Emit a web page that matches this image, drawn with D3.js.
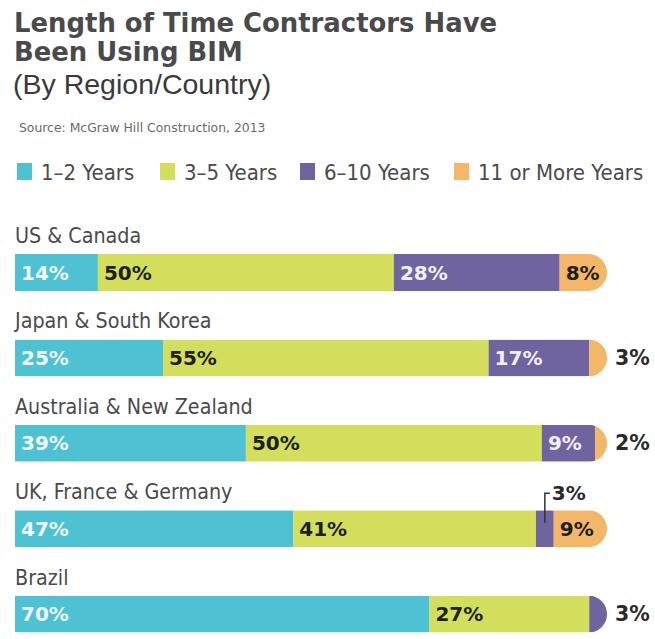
<!DOCTYPE html>
<html>
<head>
<meta charset="UTF-8">
<title>Length of Time Contractors Have Been Using BIM</title>
<script src="https://d3js.org/d3.v7.min.js"></script>
<style>
	body { margin: 0; background: #fff; }
	svg { display: block; }
</style>
</head>
<body>
<svg></svg>
<script type="text/javascript">
	var regions = ["US & Canada", "Japan & South Korea", "Australia & New Zealand", "UK, France & Germany", "Brazil"];
	var seriesNames = ["1\u20132 Years", "3\u20135 Years", "6\u201310 Years", "11 or More Years"];
	var years1to2 = [14, 25, 39, 47, 70];
	var years3to5 = [50, 55, 50, 41, 27];
	var years6to10 = [28, 17, 9, 3, 3];
	var years11plus = [8, 3, 2, 9, 0];

	var colors = ["#4ec1d2", "#d3df5c", "#6f649f", "#f3b767"];
	var labelColors = ["#eefaff", "#1e1e1e", "#f4f1ff", "#1e1e1e"];

	var width = 655, height = 639;
	var svg = d3.select("svg").attr("width", width).attr("height", height);

	var titleFont = "'DejaVu Sans', sans-serif";
	var plainFont = "'Liberation Sans', Arial, sans-serif";
	var labelFont = "'DejaVu Sans', sans-serif";
	var pctFont = "'DejaVu Sans', sans-serif";

	// title block
	svg.append("text").attr("x", 14).attr("y", 32)
		.attr("font-family", titleFont).attr("font-weight", 700).attr("font-size", 25.9)
		.attr("fill", "#4a4a4c").text("Length of Time Contractors Have");
	svg.append("text").attr("x", 14).attr("y", 61)
		.attr("font-family", titleFont).attr("font-weight", 700).attr("font-size", 25.9)
		.attr("fill", "#4a4a4c").text("Been Using BIM");
	svg.append("text").attr("x", 13).attr("y", 94)
		.attr("font-family", plainFont).attr("font-size", 28.5)
		.attr("fill", "#3a3a3c").text("(By Region/Country)");
	svg.append("text").attr("x", 19).attr("y", 132)
		.attr("font-family", "'DejaVu Sans', sans-serif").attr("font-size", 12.4)
		.attr("fill", "#6a6a6a").text("Source: McGraw Hill Construction, 2013");

	// legend
	var legendX = [17, 160, 300, 454];
	var legend = svg.selectAll("g.legend").data(seriesNames).enter().append("g")
		.attr("class", "legend")
		.attr("transform", function(d, i) { return "translate(" + legendX[i] + ",163)"; });
	legend.append("rect").attr("width", 15).attr("height", 17)
		.attr("fill", function(d, i) { return colors[i]; });
	legend.append("text").attr("x", 24).attr("y", 16.5)
		.attr("font-family", labelFont).attr("font-stretch", "condensed").attr("font-size", 22)
		.attr("fill", "#4a4a4c").text(function(d) { return d; });

	// stacked data
	var rows = regions.map(function(r, i) {
		return { region: r, values: [years1to2[i], years3to5[i], years6to10[i], years11plus[i]] };
	});
	rows.forEach(function(row) {
		var acc = 0;
		row.segs = row.values.map(function(v, k) {
			var s = { k: k, v: v, x0: acc, x1: acc + v };
			acc += v;
			return s;
		}).filter(function(s) { return s.v > 0; });
	});

	var x = d3.scaleLinear().domain([0, 100]).range([15, 607]);
	var y = d3.scaleBand().domain(regions).range([218, 645]);
	var barTop = 36, barH = 37, r = barH / 2;

	var defs = svg.append("defs");
	defs.append("clipPath").attr("id", "barClip").append("path")
		.attr("d", function() {
			var x0 = x(0), x1 = x(100);
			return "M" + x0 + ",0H" + (x1 - r) + "A" + r + "," + r + " 0 0 1 " + (x1 - r) + "," + barH +
				"H" + x0 + "Z";
		});

	var rowG = svg.selectAll("g.row").data(rows).enter().append("g")
		.attr("class", "row")
		.attr("transform", function(d) { return "translate(0," + y(d.region) + ")"; });

	rowG.append("text").attr("x", 15).attr("y", 25)
		.attr("font-family", labelFont).attr("font-stretch", "condensed").attr("font-size", 21.3)
		.attr("fill", "#4a4a4c").text(function(d) { return d.region; });

	var bar = rowG.append("g").attr("transform", "translate(0," + barTop + ")");
	bar.append("g").attr("clip-path", "url(#barClip)")
		.selectAll("rect").data(function(d) { return d.segs; }).enter().append("rect")
		.attr("x", function(s) { return x(s.x0); })
		.attr("width", function(s) { return x(s.x1) - x(s.x0); })
		.attr("height", barH)
		.attr("fill", function(s) { return colors[s.k]; });

	// percentage labels: inside if wide enough, outside for the last thin one, callout otherwise
	bar.each(function(row) {
		var g = d3.select(this);
		var last = row.segs[row.segs.length - 1];
		row.segs.forEach(function(s) {
			var txt = s.v + "%";
			if (s.v > 3) {
				g.append("text").attr("x", x(s.x0) + 6).attr("y", barH / 2 + 7)
					.attr("font-family", pctFont).attr("font-weight", 700).attr("font-size", 20)
					.attr("fill", labelColors[s.k]).text(txt);
			} else if (s === last) {
				g.append("text").attr("x", 615).attr("y", barH / 2 + 7)
					.attr("font-family", pctFont).attr("font-weight", 700).attr("font-size", 20.5)
					.attr("fill", "#2a2a2a").text(txt);
			} else {
				var cx = (x(s.x0) + x(s.x1)) / 2;
				g.append("path")
					.attr("d", "M" + cx + "," + (barH / 2 - 6) + "V-17H" + (cx + 5))
					.attr("fill", "none").attr("stroke", "#333").attr("stroke-width", 1.5);
				g.append("text").attr("x", cx + 7).attr("y", -10)
					.attr("font-family", pctFont).attr("font-weight", 700).attr("font-size", 20)
					.attr("fill", "#2a2a2a").text(txt);
			}
		});
	});
</script>
</body>
</html>
